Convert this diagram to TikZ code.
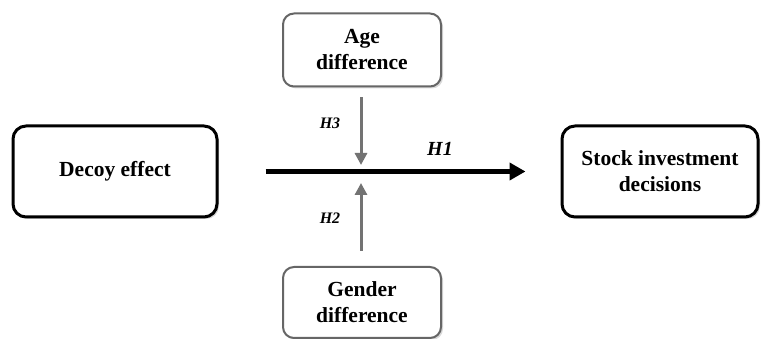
\documentclass[tikz,border=0pt]{standalone}
\usepackage{fontspec}
\setmainfont{Liberation Serif}
\usetikzlibrary{arrows.meta,shadows}

\begin{document}
\begin{tikzpicture}[x=1pt, y=-1pt,
    mainbox/.style={draw=black, line width=3pt, rounded corners=13pt, fill=white,
        drop shadow={opacity=0.35, shadow xshift=2pt, shadow yshift=-2pt},
        minimum width=204pt, minimum height=91pt, inner sep=0pt, align=center,
        font=\fontsize{21.5}{26}\selectfont\bfseries},
    modbox/.style={draw=black!60, line width=2pt, rounded corners=11pt, fill=white,
        drop shadow={opacity=0.3, shadow xshift=2pt, shadow yshift=-2pt},
        minimum width=158pt, minimum height=73pt, inner sep=0pt, align=center,
        font=\fontsize{21.5}{26}\selectfont\bfseries},
    hlabel/.style={font=\fontsize{16}{18}\selectfont\bfseries\itshape},
    grayarrow/.style={draw=black!55, line width=3pt, -{Triangle[length=12pt, width=12pt]}}
]
    \useasboundingbox (0,0) rectangle (761,339);

    % the four boxes
    \node[mainbox] (decoy) at (115, 171.5) {Decoy effect};
    \node[mainbox, minimum width=196pt] (stock) at (660, 171.5) {Stock investment\\decisions};
    \node[modbox] (age) at (362, 50) {Age\\difference};
    \node[modbox, minimum height=71pt] (gender) at (362, 302.5) {Gender\\difference};

    % meeting point on the main path
    \coordinate (mid) at (361, 172);

    % main effect
    \draw[line width=5.5pt, -{Triangle[length=16pt, width=17pt]},
        shorten <=47pt, shorten >=35pt] (decoy) -- (stock);
    \node[hlabel, font=\fontsize{20}{22}\selectfont\bfseries\itshape] (h1) at (440, 149) {H1};

    % moderating effects
    \draw[grayarrow, shorten <=10pt, shorten >=7pt] (age.south -| mid) -- (mid);
    \draw[grayarrow, shorten <=15pt, shorten >=11pt] (gender.north -| mid) -- (mid);
    \node[hlabel] (h3) at (330, 123) {H3};
    \node[hlabel] (h2) at (330, 218) {H2};
\end{tikzpicture}
\end{document}
